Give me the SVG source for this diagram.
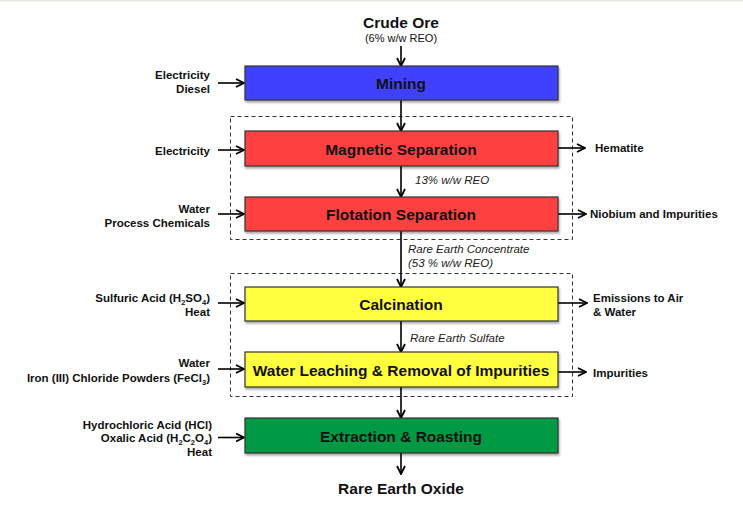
<svg xmlns="http://www.w3.org/2000/svg" width="743" height="508" viewBox="0 0 743 508">
<defs>
<marker id="ah" viewBox="0 0 10 10" refX="9" refY="5" markerWidth="10" markerHeight="10" markerUnits="userSpaceOnUse" orient="auto">
<path d="M1,1 L9,5 L1,9" fill="none" stroke="#000" stroke-width="1.8"/>
</marker>
<filter id="sh" x="-5%" y="-20%" width="110%" height="150%">
<feDropShadow dx="1" dy="2" stdDeviation="1.2" flood-color="#000" flood-opacity="0.35"/>
</filter>
</defs>
<style>
text{font-family:"Liberation Sans",Arial,sans-serif;fill:#111}
.box{stroke:#333;stroke-width:1.2;filter:url(#sh)}
.bl{font-size:15.5px;font-weight:bold;text-anchor:middle}
.side{font-size:11.5px;font-weight:bold}
.r{text-anchor:end}
.it{font-size:11.5px;font-style:italic;fill:#222}
.big{font-size:15.5px;font-weight:bold;text-anchor:middle}
.ln{stroke:#000;stroke-width:1.6;fill:none;marker-end:url(#ah)}
.dash{fill:none;stroke:#333;stroke-width:1;stroke-dasharray:4,3}
</style>
<rect x="0" y="0" width="743" height="508" fill="#fff"/>
<rect x="0" y="0" width="743" height="1.5" fill="#e2ecd9"/>

<g id="dashed-groups">
<rect class="dash" x="230.5" y="116.5" width="342" height="123"/>
<rect class="dash" x="230.5" y="273.5" width="342" height="123"/>
</g>

<g id="connectors">
<line class="ln" x1="401" y1="46" x2="401" y2="66"/>
<line class="ln" x1="401" y1="100" x2="401" y2="131"/>
<line class="ln" x1="401" y1="166" x2="401" y2="197"/>
<line class="ln" x1="401" y1="231" x2="401" y2="287"/>
<line class="ln" x1="401" y1="321" x2="401" y2="352"/>
<line class="ln" x1="401" y1="387" x2="401" y2="418"/>
<line class="ln" x1="401" y1="453" x2="401" y2="474"/>
<line class="ln" x1="218" y1="83" x2="244" y2="83"/>
<line class="ln" x1="218" y1="150" x2="244" y2="150"/>
<line class="ln" x1="218" y1="214" x2="244" y2="214"/>
<line class="ln" x1="218" y1="303" x2="244" y2="303"/>
<line class="ln" x1="218" y1="369" x2="244" y2="369"/>
<line class="ln" x1="218" y1="437.5" x2="244" y2="437.5"/>
<line class="ln" x1="558" y1="148" x2="585" y2="148"/>
<line class="ln" x1="558" y1="214" x2="586" y2="214"/>
<line class="ln" x1="558" y1="303" x2="587" y2="303"/>
<line class="ln" x1="558" y1="372" x2="586" y2="372"/>
<text class="it" x="415" y="184">13% w/w REO</text>
<text class="it" x="408" y="252.5">Rare Earth Concentrate</text>
<text class="it" x="408" y="266.5">(53 % w/w REO)</text>
<text class="it" x="410" y="342">Rare Earth Sulfate</text>
</g>

<g id="crude-ore">
<text class="big" x="401" y="28">Crude Ore</text>
<text x="401" y="42" style="font-size:11px;text-anchor:middle">(6% w/w REO)</text>
</g>

<g id="mining">
<rect class="box" x="245" y="66" width="313" height="34" fill="#4141ff"/>
<text class="bl" x="401" y="89">Mining</text>
</g>
<g id="magnetic-separation">
<rect class="box" x="245" y="131" width="313" height="35" fill="#ff4141"/>
<text class="bl" x="401" y="155">Magnetic Separation</text>
</g>
<g id="flotation-separation">
<rect class="box" x="245" y="197" width="313" height="34" fill="#ff4141"/>
<text class="bl" x="401" y="220">Flotation Separation</text>
</g>
<g id="calcination">
<rect class="box" x="245" y="287" width="313" height="34" fill="#ffff41"/>
<text class="bl" x="401" y="310">Calcination</text>
</g>
<g id="water-leaching">
<rect class="box" x="245" y="352" width="313" height="35" fill="#ffff41"/>
<text class="bl" x="401" y="376">Water Leaching &amp; Removal of Impurities</text>
</g>
<g id="extraction-roasting">
<rect class="box" x="245" y="418" width="313" height="35" fill="#009a44"/>
<text class="bl" x="401" y="442">Extraction &amp; Roasting</text>
</g>
<g id="rare-earth-oxide">
<text class="big" x="401" y="494">Rare Earth Oxide</text>
</g>

<g id="inputs">
<text class="side r" x="210" y="79">Electricity</text>
<text class="side r" x="210" y="93">Diesel</text>
<text class="side r" x="210" y="155">Electricity</text>
<text class="side r" x="210" y="213">Water</text>
<text class="side r" x="210" y="227">Process Chemicals</text>
<text class="side r" x="210" y="302">Sulfuric Acid (H<tspan font-size="7.5" dy="3">2</tspan><tspan dy="-3">SO</tspan><tspan font-size="7.5" dy="3">4</tspan><tspan dy="-3">)</tspan></text>
<text class="side r" x="210" y="316">Heat</text>
<text class="side r" x="210" y="367">Water</text>
<text class="side r" x="210" y="382">Iron (III) Chloride Powders (FeCl<tspan font-size="7.5" dy="3">3</tspan><tspan dy="-3">)</tspan></text>
<text class="side r" x="212" y="428.5">Hydrochloric Acid (HCl)</text>
<text class="side r" x="212" y="442">Oxalic Acid (H<tspan font-size="7.5" dy="3">2</tspan><tspan dy="-3">C</tspan><tspan font-size="7.5" dy="3">2</tspan><tspan dy="-3">O</tspan><tspan font-size="7.5" dy="3">4</tspan><tspan dy="-3">)</tspan></text>
<text class="side r" x="212" y="456">Heat</text>
</g>

<g id="outputs">
<text class="side" x="595" y="152">Hematite</text>
<text class="side" x="590" y="218">Niobium and Impurities</text>
<text class="side" x="593" y="302">Emissions to Air</text>
<text class="side" x="593" y="315.5">&amp; Water</text>
<text class="side" x="593" y="377">Impurities</text>
</g>
</svg>
